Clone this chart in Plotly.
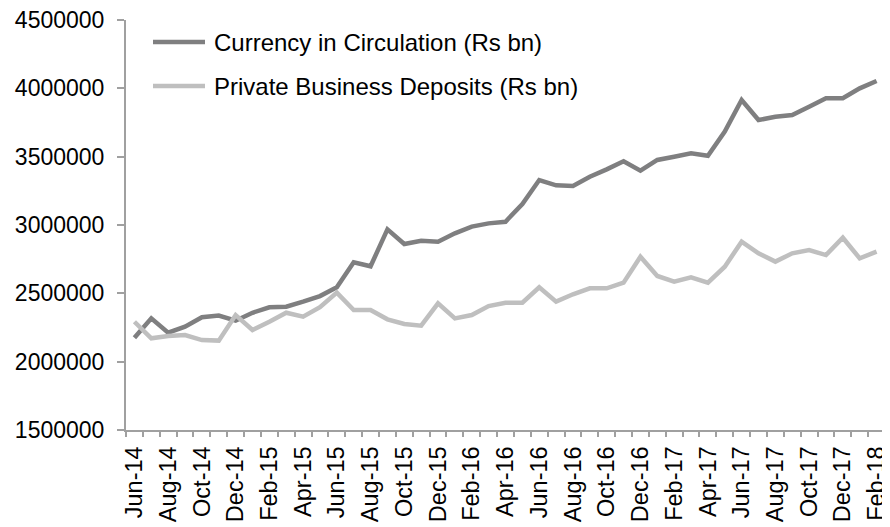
import plotly.graph_objects as go

months = ["Jun-14","Jul-14","Aug-14","Sep-14","Oct-14","Nov-14","Dec-14","Jan-15","Feb-15","Mar-15",
          "Apr-15","May-15","Jun-15","Jul-15","Aug-15","Sep-15","Oct-15","Nov-15","Dec-15","Jan-16",
          "Feb-16","Mar-16","Apr-16","May-16","Jun-16","Jul-16","Aug-16","Sep-16","Oct-16","Nov-16",
          "Dec-16","Jan-17","Feb-17","Mar-17","Apr-17","May-17","Jun-17","Jul-17","Aug-17","Sep-17",
          "Oct-17","Nov-17","Dec-17","Jan-18","Feb-18"]

currency = [2175000, 2317000, 2212000, 2256000, 2325000, 2337000, 2300000, 2358000, 2398000, 2402000,
            2439000, 2480000, 2544000, 2727000, 2698000, 2968000, 2861000, 2885000, 2878000, 2939000,
            2988000, 3012000, 3024000, 3154000, 3329000, 3290000, 3285000, 3353000, 3407000, 3466000,
            3397000, 3476000, 3500000, 3524000, 3507000, 3683000, 3915000, 3768000, 3792000, 3805000,
            3866000, 3927000, 3927000, 4000000, 4054000]

deposits = [2292000, 2171000, 2188000, 2195000, 2158000, 2154000, 2341000, 2232000, 2292000, 2358000,
            2329000, 2398000, 2505000, 2378000, 2378000, 2310000, 2276000, 2263000, 2427000, 2317000,
            2341000, 2407000, 2431000, 2431000, 2544000, 2439000, 2493000, 2537000, 2537000, 2578000,
            2768000, 2627000, 2585000, 2617000, 2578000, 2695000, 2878000, 2793000, 2732000, 2793000,
            2817000, 2780000, 2907000, 2756000, 2805000]

series_names = ["Currency in Circulation (Rs bn)", "Private Business Deposits (Rs bn)"]
series_colors = ["#7f7f80", "#bfbfbf"]

y_ticks = [1500000, 2000000, 2500000, 3000000, 3500000, 4000000, 4500000]

FONT = "Liberation Sans, Arial, sans-serif"
idx = list(range(len(months)))

fig = go.Figure()
for vals, name, col in zip([currency, deposits], series_names, series_colors):
    fig.add_trace(go.Scatter(x=idx, y=vals, mode="lines", name=name,
                             line=dict(color=col, width=4.5), showlegend=False))

# legend drawn as sample lines + labels (longer sample lines as in the original)
plot_w, plot_h = 759.0, 410.0
for k, (name, col) in enumerate(zip(series_names, series_colors)):
    yc = 1 - (22 + 44 * k) / plot_h
    fig.add_shape(type="line", xref="paper", yref="paper",
                  x0=27 / plot_w, x1=79 / plot_w, y0=yc, y1=yc,
                  line=dict(color=col, width=4.5))
    fig.add_annotation(xref="paper", yref="paper", x=86 / plot_w, y=yc,
                       xanchor="left", yanchor="middle", showarrow=False,
                       text=name, font=dict(size=24, color="black"))

fig.update_layout(
    width=882, height=519,
    margin=dict(l=118, r=5, t=12, b=97, autoexpand=False),
    paper_bgcolor="white", plot_bgcolor="white",
    font=dict(family=FONT, size=23, color="black"),
    showlegend=False,
    xaxis=dict(range=[-0.5, len(months) - 0.5], tickmode="array",
               tickvals=idx[::2], ticktext=months[::2], tickangle=-90,
               ticks="", showgrid=False, zeroline=False,
               showline=True, linecolor="#a0a0a0", linewidth=2,
               tickfont=dict(size=23.5), ticklabeloverflow="allow", ticklabelstandoff=5,
               minor=dict(tickmode="linear", tick0=-0.5, dtick=1, ticks="outside", ticklen=5,
                          tickcolor="#a0a0a0", tickwidth=2, showgrid=False)),
    yaxis=dict(range=[1500000, 4500000], tickmode="array", tickvals=y_ticks,
               ticktext=[str(v) for v in y_ticks],
               ticks="outside", ticklen=7, tickcolor="#a0a0a0", tickwidth=2,
               showgrid=False, zeroline=False,
               showline=True, linecolor="#a0a0a0", linewidth=2,
               ticklabelstandoff=8, ticklabeloverflow="allow"),
)

fig.write_html("out.html")
